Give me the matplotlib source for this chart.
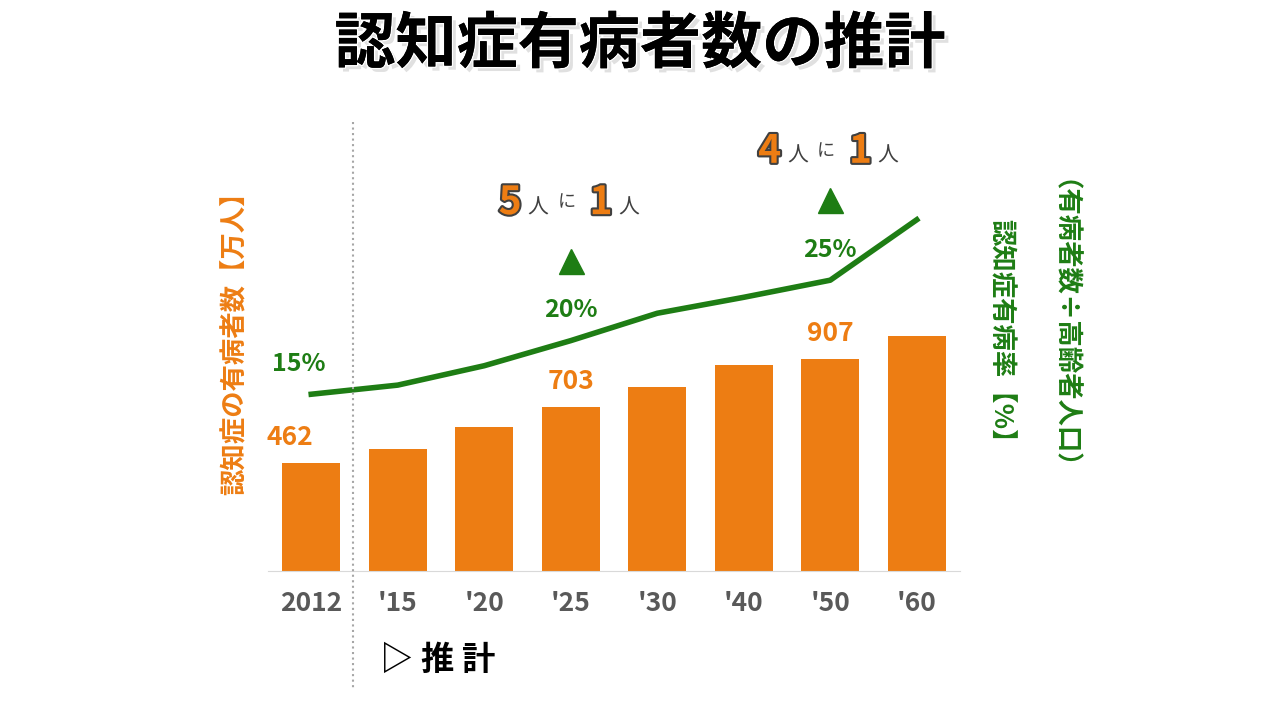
import matplotlib.pyplot as plt
import matplotlib.patheffects as pe

plt.rcParams['font.family'] = ['Noto Sans CJK JP', 'DejaVu Sans']

years = ["2012", "'15", "'20", "'25", "'30", "'40", "'50", "'60"]
patients = [462, 522, 616, 703, 787, 881, 907, 1005]
rate = [15.0, 15.8, 17.5, 19.7, 22.1, 23.5, 25.0, 30.3]
bar_labels = {0: "462", 3: "703", 6: "907"}
rate_labels = {0: "15%", 3: "20%", 6: "25%"}

orange = '#ED7D13'
green = '#1E7D14'

fig = plt.figure(figsize=(12.8, 7.2), dpi=100)
ax = fig.add_axes([268/1280, 1-571/720, 692/1280, 471/720])
x = range(len(years))
ax.bar(x, patients, width=0.67, color=orange)
ax.set_xlim(-0.5, 7.5)
ax.set_ylim(0, 2015)
ax.set_yticks([])
for s in ['top', 'left', 'right']:
    ax.spines[s].set_visible(False)
ax.spines['bottom'].set_color('#d9d9d9')
ax.set_xticks(list(x))
ax.set_xticklabels(years, fontsize=19, fontweight='bold', color='#595959')
ax.tick_params(axis='x', length=0, pad=14)
for i, t in bar_labels.items():
    ax.text(i - (0.25 if i == 0 else 0), patients[i] + 50, t, ha='center', va='bottom',
            fontsize=19, fontweight='bold', color=orange)

ax2 = ax.twinx()
ax2.plot(x, rate, color=green, lw=4)
ax2.set_ylim(-0.5, 40.8)
ax2.axis('off')
for i, t in rate_labels.items():
    ax2.text(i - (0.15 if i == 0 else 0), rate[i] + 1.6, t, ha='center', va='bottom',
             fontsize=18, fontweight='bold', color=green)

outline = [pe.withStroke(linewidth=3, foreground='#404040')]
for xi, ty, tri_y, n in [(3, 31.8, 26.7, '5'), (6, 36.3, 32.0, '4')]:
    ax2.plot([xi], [tri_y], marker='^', ms=18, color=green, clip_on=False)
    ax2.text(xi - 0.7, ty, n, fontsize=28, fontweight='bold', color=orange,
             path_effects=outline, va='center', ha='center')
    ax2.text(xi - 0.38, ty - 0.4, '人', fontsize=15, color='#404040', va='center', ha='center')
    ax2.text(xi - 0.05, ty, 'に', fontsize=13, color='#404040', va='center', ha='center')
    ax2.text(xi + 0.35, ty, '1', fontsize=28, fontweight='bold', color=orange,
             path_effects=outline, va='center', ha='center')
    ax2.text(xi + 0.67, ty - 0.4, '人', fontsize=15, color='#404040', va='center', ha='center')

fig.add_artist(plt.Line2D([353/1280, 353/1280], [1-122/720, 1-690/720],
                          color='#a6a6a6', ls=':', lw=1.5))

fig.text(0.5, 1-45/720, '認知症有病者数の推計', ha='center', va='center', fontsize=44,
         fontweight='bold', color='black',
         path_effects=[pe.withSimplePatchShadow(offset=(3, -3), shadow_rgbFace='#999999'),
                       pe.withStroke(linewidth=2, foreground='white'), pe.Normal()])
fig.text(235/1280, 1-337/720, '認知症の有病者数【万人】', rotation=90, ha='center', va='center',
         fontsize=19, fontweight='bold', color=orange)
fig.text(1000/1280, 1-337/720, '認知症有病率【%】', rotation=270, ha='center', va='center',
         fontsize=19, fontweight='bold', color=green)
fig.text(1050/1280, 1-337/720, '（有病者数÷高齢者人口）', rotation=270, ha='center', va='center',
         fontsize=19, fontweight='bold', color=green)
fig.text(380/1280, 1-660/720, '▷ 推 計', ha='left', va='center', fontsize=24,
         color='black', fontweight='bold')

fig.savefig('out.png')
